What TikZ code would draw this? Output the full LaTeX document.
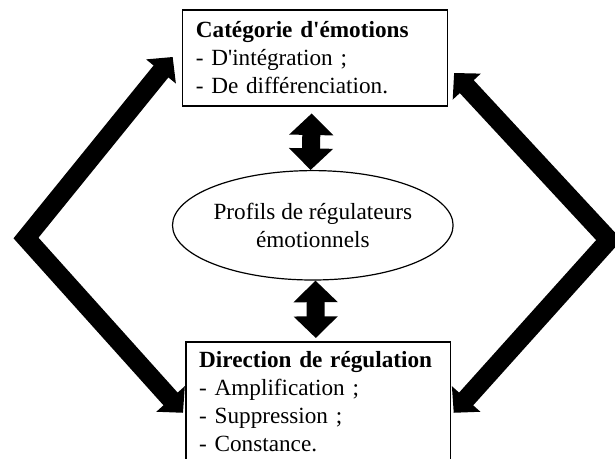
\documentclass[tikz,border=0pt]{standalone}
\usepackage{fontspec}
\setmainfont{Liberation Serif}
\usetikzlibrary{arrows.meta}
\usetikzlibrary{shapes.geometric}

\begin{document}
\begin{tikzpicture}[x=0.5pt, y=-0.5pt,
  every node/.style={font=\fontsize{11.6}{14}\selectfont},
  box/.style={draw, line width=0.8pt, anchor=north west, align=left,
    text width=119pt, inner xsep=6.7pt, inner ysep=0pt},
  profil/.style={draw, ellipse, line width=0.6pt, inner sep=0pt, align=center,
    minimum width=114.5pt, minimum height=54.7pt},
  bigarrow/.style={line width=9.5pt, line join=miter,
    {Triangle[length=9.3pt,width=18.6pt]}-{Triangle[length=9.3pt,width=18.6pt]}},
  dblarrow/.style={line width=9pt,
    {Triangle[length=10.8pt,width=21.5pt]}-{Triangle[length=10.8pt,width=21.5pt]}}]
  \useasboundingbox (0,0) rectangle (615,459);
  \clip (0,0) rectangle (615,459);

  \node[box, minimum height=47.9pt] (cat) at (181.7,9.3)
    {\textbf{Catégorie d\textquotesingle émotions}\\- D\textquotesingle intégration ;\\- De différenciation.};
  \node[profil] (prof) at (312.8,225.3) {Profils de régulateurs\\émotionnels};
  \node[box, minimum height=60pt] (dir) at (185,341)
    {\textbf{Direction de régulation}\\- Amplification ;\\- Suppression ;\\- Constance.};

  \coordinate (lk) at (26,238);
  \coordinate (rk) at (609,240);

  \draw[dblarrow] ([xshift=-1.6pt,yshift=-3.35pt]cat.south) -- ([xshift=-1.1pt]prof.north);
  \draw[dblarrow] ([xshift=1.35pt]prof.south) -- ([xshift=-1.2pt,yshift=1.5pt]dir.north);

  \draw[bigarrow] ([shift={(-9,-1)}]cat.west) -- (lk) -- ([shift={(-2,11)}]dir.west);
  \draw[bigarrow] ([shift={(6,15)}]cat.east) -- (rk) -- ([shift={(2.3,11)}]dir.east);
\end{tikzpicture}
\end{document}
